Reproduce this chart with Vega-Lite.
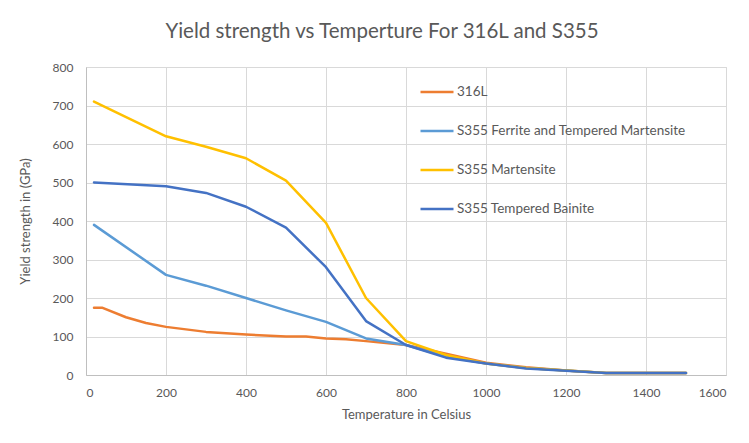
{
  "$schema": "https://vega.github.io/schema/vega-lite/v6.json",
  "width": 640,
  "height": 308,
  "autosize": "none",
  "padding": {"left": 86, "top": 67, "right": 23, "bottom": 68},
  "background": "white",
  "title": {
    "text": "Yield strength vs Temperture For 316L and S355",
    "font": "Lato",
    "fontSize": 20.5,
    "fontWeight": "normal",
    "color": "#595959",
    "anchor": "middle",
    "dx": -24,
    "offset": 19
  },
  "data": {
    "values": [
      {"series": "316L", "temp": 20, "ys": 175},
      {"series": "316L", "temp": 40, "ys": 175},
      {"series": "316L", "temp": 100, "ys": 150},
      {"series": "316L", "temp": 150, "ys": 135},
      {"series": "316L", "temp": 200, "ys": 125},
      {"series": "316L", "temp": 300, "ys": 112},
      {"series": "316L", "temp": 400, "ys": 105},
      {"series": "316L", "temp": 500, "ys": 100},
      {"series": "316L", "temp": 550, "ys": 100},
      {"series": "316L", "temp": 600, "ys": 95},
      {"series": "316L", "temp": 650, "ys": 93},
      {"series": "316L", "temp": 700, "ys": 88},
      {"series": "316L", "temp": 800, "ys": 78},
      {"series": "316L", "temp": 900, "ys": 55},
      {"series": "316L", "temp": 1000, "ys": 32},
      {"series": "316L", "temp": 1100, "ys": 20},
      {"series": "316L", "temp": 1200, "ys": 12},
      {"series": "316L", "temp": 1300, "ys": 5},
      {"series": "316L", "temp": 1400, "ys": 5},
      {"series": "316L", "temp": 1500, "ys": 5},
      {"series": "S355 Ferrite and Tempered Martensite", "temp": 20, "ys": 390},
      {"series": "S355 Ferrite and Tempered Martensite", "temp": 200, "ys": 260},
      {"series": "S355 Ferrite and Tempered Martensite", "temp": 300, "ys": 232},
      {"series": "S355 Ferrite and Tempered Martensite", "temp": 400, "ys": 200},
      {"series": "S355 Ferrite and Tempered Martensite", "temp": 500, "ys": 168},
      {"series": "S355 Ferrite and Tempered Martensite", "temp": 600, "ys": 138},
      {"series": "S355 Ferrite and Tempered Martensite", "temp": 700, "ys": 95},
      {"series": "S355 Ferrite and Tempered Martensite", "temp": 800, "ys": 78},
      {"series": "S355 Ferrite and Tempered Martensite", "temp": 900, "ys": 48},
      {"series": "S355 Ferrite and Tempered Martensite", "temp": 1000, "ys": 30},
      {"series": "S355 Ferrite and Tempered Martensite", "temp": 1100, "ys": 18},
      {"series": "S355 Ferrite and Tempered Martensite", "temp": 1200, "ys": 12},
      {"series": "S355 Ferrite and Tempered Martensite", "temp": 1300, "ys": 5},
      {"series": "S355 Ferrite and Tempered Martensite", "temp": 1400, "ys": 5},
      {"series": "S355 Ferrite and Tempered Martensite", "temp": 1500, "ys": 5},
      {"series": "S355 Martensite", "temp": 20, "ys": 710},
      {"series": "S355 Martensite", "temp": 200, "ys": 620},
      {"series": "S355 Martensite", "temp": 300, "ys": 593},
      {"series": "S355 Martensite", "temp": 400, "ys": 563},
      {"series": "S355 Martensite", "temp": 500, "ys": 505},
      {"series": "S355 Martensite", "temp": 600, "ys": 395},
      {"series": "S355 Martensite", "temp": 700, "ys": 200},
      {"series": "S355 Martensite", "temp": 800, "ys": 88},
      {"series": "S355 Martensite", "temp": 900, "ys": 52},
      {"series": "S355 Martensite", "temp": 1000, "ys": 30},
      {"series": "S355 Martensite", "temp": 1100, "ys": 18},
      {"series": "S355 Martensite", "temp": 1200, "ys": 12},
      {"series": "S355 Martensite", "temp": 1300, "ys": 5},
      {"series": "S355 Martensite", "temp": 1400, "ys": 5},
      {"series": "S355 Martensite", "temp": 1500, "ys": 5},
      {"series": "S355 Tempered Bainite", "temp": 20, "ys": 500},
      {"series": "S355 Tempered Bainite", "temp": 200, "ys": 490},
      {"series": "S355 Tempered Bainite", "temp": 300, "ys": 473},
      {"series": "S355 Tempered Bainite", "temp": 400, "ys": 437},
      {"series": "S355 Tempered Bainite", "temp": 500, "ys": 383},
      {"series": "S355 Tempered Bainite", "temp": 600, "ys": 280},
      {"series": "S355 Tempered Bainite", "temp": 700, "ys": 140},
      {"series": "S355 Tempered Bainite", "temp": 800, "ys": 78},
      {"series": "S355 Tempered Bainite", "temp": 900, "ys": 45},
      {"series": "S355 Tempered Bainite", "temp": 1000, "ys": 30},
      {"series": "S355 Tempered Bainite", "temp": 1100, "ys": 17},
      {"series": "S355 Tempered Bainite", "temp": 1200, "ys": 11},
      {"series": "S355 Tempered Bainite", "temp": 1300, "ys": 5},
      {"series": "S355 Tempered Bainite", "temp": 1400, "ys": 5},
      {"series": "S355 Tempered Bainite", "temp": 1500, "ys": 5}
    ]
  },
  "mark": {"type": "line", "strokeWidth": 2.5, "strokeCap": "round", "strokeJoin": "round"},
  "encoding": {
    "x": {
      "field": "temp",
      "type": "quantitative",
      "scale": {"domain": [0, 1600], "nice": false, "zero": true},
      "axis": {
        "title": "Temperature in Celsius",
        "values": [0, 200, 400, 600, 800, 1000, 1200, 1400, 1600],
        "format": "d",
        "labelPadding": 12,
        "titlePadding": 10
      }
    },
    "y": {
      "field": "ys",
      "type": "quantitative",
      "scale": {"domain": [0, 800], "nice": false},
      "axis": {
        "title": "Yield strength in (GPa)",
        "values": [0, 100, 200, 300, 400, 500, 600, 700, 800],
        "format": "d",
        "labelPadding": 13,
        "titlePadding": 20
      }
    },
    "color": {
      "field": "series",
      "type": "nominal",
      "scale": {
        "domain": ["316L", "S355 Ferrite and Tempered Martensite", "S355 Martensite", "S355 Tempered Bainite"],
        "range": ["#ED7D31", "#5B9BD5", "#FFC000", "#4472C4"]
      },
      "legend": {
        "title": null,
        "orient": "none",
        "legendX": 333,
        "legendY": 7,
        "padding": 0,
        "symbolType": "stroke",
        "symbolSize": 1089,
        "symbolStrokeWidth": 2.5,
        "labelOffset": 2,
        "rowPadding": 14,
        "labelFont": "Lato",
        "labelFontSize": 13.5,
        "labelColor": "#595959",
        "labelLimit": 400
      }
    }
  },
  "config": {
    "view": {"stroke": "#D9D9D9", "strokeWidth": 1},
    "axis": {
      "grid": true,
      "gridColor": "#D9D9D9",
      "gridWidth": 1,
      "ticks": false,
      "domainColor": "#BFBFBF",
      "domainWidth": 1,
      "labelFont": "Lato",
      "labelFontSize": 12,
      "labelColor": "#595959",
      "titleFont": "Lato",
      "titleFontSize": 13,
      "titleFontWeight": "normal",
      "titleColor": "#595959"
    }
  }
}
